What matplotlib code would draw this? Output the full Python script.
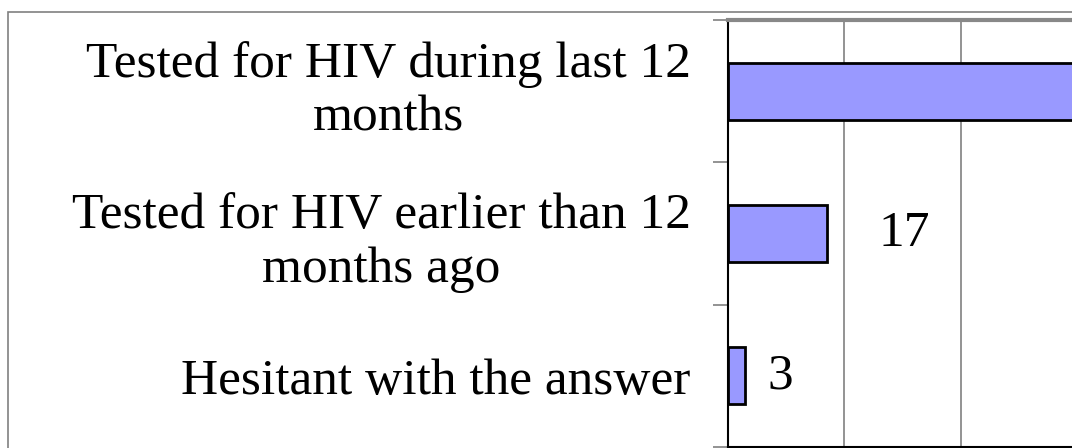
import matplotlib
matplotlib.use("Agg")
import matplotlib.pyplot as plt
from matplotlib.patches import Rectangle
import numpy as np

categories = ["Tested for HIV during last 12\nmonths",
              "Tested for HIV earlier than 12\nmonths ago",
              "Hesitant with the answer"]
values = [80, 17, 3]
# the first bar's label falls outside the visible (cropped) area
value_labels = ["", "17", "3"]

plt.rcParams['font.family'] = ['Liberation Serif', 'DejaVu Serif']

fig = plt.figure(figsize=(10.72, 4.48), dpi=100)
W, H = 1072.0, 448.0

# outer frame, cut off on the right and bottom like the source
fig.patches.append(Rectangle((8 / W, -0.1), 1.2, 436 / H + 0.1,
                             transform=fig.transFigure, fill=False,
                             edgecolor='#808080', linewidth=1.2))

# plot area runs past the right edge of the picture
ax = fig.add_axes([728 / W, 1 / H, 582 / W, 427 / H])

y = np.arange(len(categories))
ax.barh(y, values, height=0.4, color='#9999ff', edgecolor='black',
        linewidth=2, zorder=3)

ax.set_xlim(0, 100)
ax.set_ylim(len(categories) - 0.5, -0.5)
ax.set_xticks(np.arange(0, 101, 20))
ax.xaxis.grid(True, color='#808080', linewidth=1.2, zorder=0)
ax.tick_params(axis='x', length=0, labelbottom=False)

ax.set_yticks(y)
ax.set_yticklabels(categories, fontsize=37)
for t in ax.get_yticklabels():
    t.set_multialignment('center')
    t.set_linespacing(1.2)
# top label sits a little higher in the source
ax.get_yticklabels()[0].set_verticalalignment('center')
ax.tick_params(axis='y', which='major', length=0, pad=27)
ax.set_yticks(np.arange(-0.5, len(categories), 1.0), minor=True)
ax.tick_params(axis='y', which='minor', length=11, width=1.2, color='#808080')

for side in ['left', 'bottom']:
    ax.spines[side].set_color('black')
    ax.spines[side].set_linewidth(1.5)
ax.spines['top'].set_color('#888888')
ax.spines['top'].set_linewidth(3)
ax.spines['right'].set_visible(False)

label_pad = [30, 37, 16]
for i, v in enumerate(values):
    if value_labels[i]:
        ax.annotate(value_labels[i], (v, y[i]), xytext=(label_pad[i], 0),
                    textcoords='offset points', ha='left', va='center',
                    fontsize=37)

fig.savefig("out.png", dpi=100)
